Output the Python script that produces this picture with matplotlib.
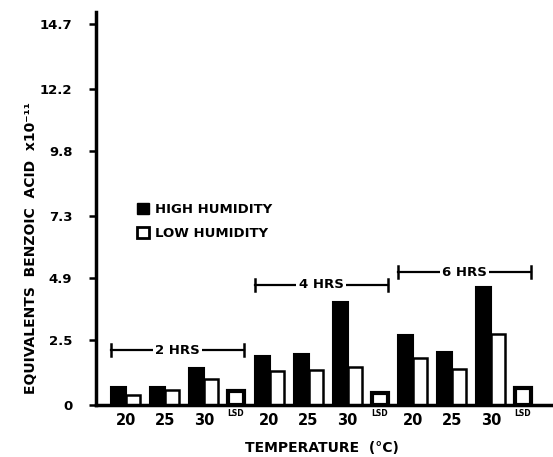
import matplotlib
matplotlib.use("Agg")
import matplotlib.pyplot as plt
from matplotlib.patches import Patch

# ---- data ----
durations = ["2 HRS", "4 HRS", "6 HRS"]
temperatures = ["20", "25", "30"]
high_humidity = [[0.68, 0.71, 1.44],
                 [1.89, 1.96, 3.99],
                 [2.70, 2.06, 4.57]]
low_humidity = [[0.39, 0.58, 1.00],
                [1.32, 1.35, 1.48],
                [1.83, 1.39, 2.74]]
lsd_values = [0.54, 0.45, 0.67]
y_ticks = [0, 2.5, 4.9, 7.3, 9.8, 12.2, 14.7]

plt.rcParams['font.family'] = ['DejaVu Sans']
plt.rcParams['font.weight'] = 'bold'

W, H = 553, 457
fig = plt.figure(figsize=(W / 100, H / 100), dpi=100)
ax = fig.add_axes([96 / W, (H - 405) / H, (W - 96) / W, 393 / H])

ymax = 14.7 * 393 / 381
ax.set_ylim(0, ymax)
ax.set_xlim(96, 553)

group_step = 143.5
slot = 39
hw, lw, lsdw = 15, 14, 16
tick_pos, tick_lab = [], []
bracket_y = [350, 285, 272]
for g, dur in enumerate(durations):
    start = 111 + group_step * g
    for k, t in enumerate(temperatures):
        x0 = start + slot * k
        ax.bar(x0, high_humidity[g][k], width=hw, align='edge',
               color='black', edgecolor='black', linewidth=1.5)
        ax.bar(x0 + hw, low_humidity[g][k], width=lw, align='edge',
               color='white', edgecolor='black', linewidth=1.8)
        tick_pos.append(x0 + hw)
        tick_lab.append(t)
    xl = start + slot * 3
    ax.bar(xl, lsd_values[g], width=lsdw, align='edge',
           color='white', edgecolor='black', linewidth=3)
    tick_pos.append(xl + lsdw / 2)
    tick_lab.append("LSD")
    # bracket
    yb = (405 - bracket_y[g]) / 393 * ymax
    x_left, x_right = start, xl + lsdw
    ax.plot([x_left, x_right], [yb, yb], color='black', lw=1.6)
    cap = 0.24
    for xe in (x_left, x_right):
        ax.plot([xe, xe], [yb - cap, yb + cap], color='black', lw=1.8)
    ax.text((x_left + x_right) / 2, yb, dur, ha='center', va='center',
            fontsize=9.5, fontweight='bold',
            bbox=dict(facecolor='white', edgecolor='none', pad=1.5))

ax.set_xticks(tick_pos)
ax.set_xticklabels(tick_lab)
for lab in ax.get_xticklabels():
    if lab.get_text() == "LSD":
        lab.set_fontsize(5.5)
        lab.set_va('center')
    else:
        lab.set_fontsize(10.5)
ax.tick_params(axis='x', length=0, pad=6)

ax.set_yticks(y_ticks)
ax.set_yticklabels([("%g" % v) for v in y_ticks], fontsize=9.5, fontweight='bold')
ax.tick_params(axis='y', length=5, width=1.8, pad=12)

for s in ('top', 'right'):
    ax.spines[s].set_visible(False)
ax.spines['left'].set_linewidth(2.5)
ax.spines['bottom'].set_linewidth(2.5)

fig.text(322 / W, (H - 448) / H, "TEMPERATURE  (°C)", fontsize=10,
         fontweight='bold', ha='center', va='center')
fig.text(31 / W, (H - 248) / H, "EQUIVALENTS  BENZOIC  ACID  x10⁻¹¹",
         fontsize=10, fontweight='bold', rotation=90, ha='center', va='center')

handles = [Patch(facecolor='black', edgecolor='black', label='HIGH HUMIDITY'),
           Patch(facecolor='white', edgecolor='black', linewidth=2, label='LOW HUMIDITY')]
ax.legend(handles=handles, loc='upper left', bbox_to_anchor=(0.063, 0.545),
          frameon=False, handlelength=0.9, handleheight=0.9, handletextpad=0.5,
          labelspacing=0.85, prop=dict(weight='bold', size=9.5))

fig.savefig("out.png", dpi=100)
